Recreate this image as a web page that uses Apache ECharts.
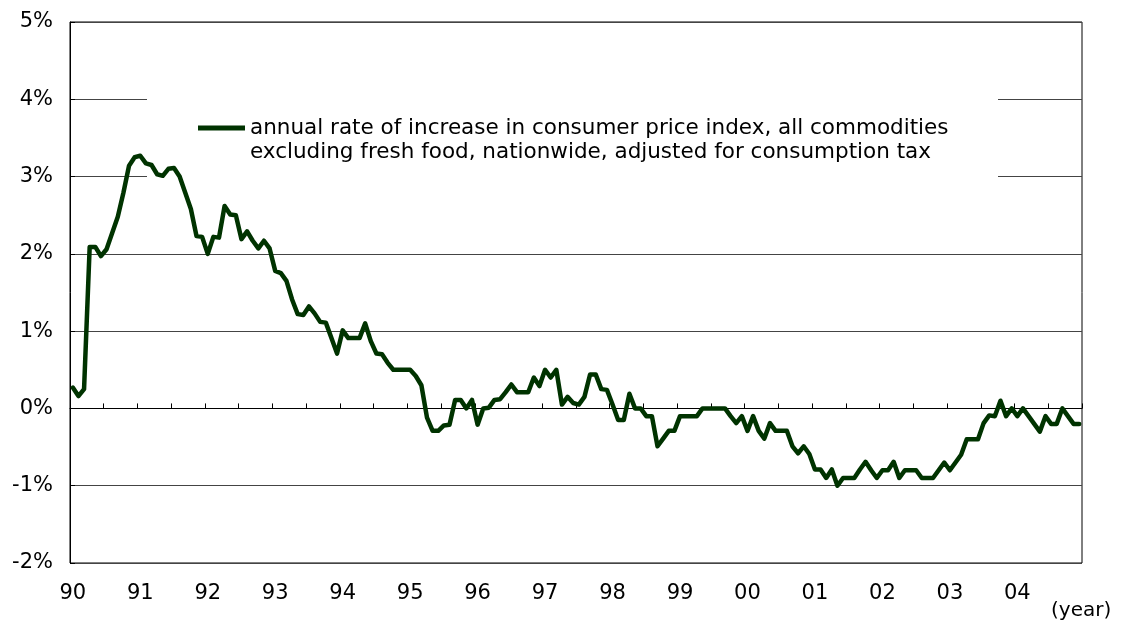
<!DOCTYPE html>
<html>
<head>
<meta charset="utf-8">
<script src="https://cdn.jsdelivr.net/npm/echarts@6/dist/echarts.min.js"></script>
<style>
html,body{margin:0;padding:0;background:#fff;}
#chart{width:1122px;height:632px;}
</style>
</head>
<body>
<div id="chart"></div>
<script>
// Monthly values (%), Jan..Dec of each year
const y1990 = [0.27, 0.16, 0.25, 2.09, 2.09, 1.97, 2.06, 2.27, 2.48, 2.79, 3.14, 3.25];
const y1991 = [3.27, 3.17, 3.15, 3.03, 3.01, 3.10, 3.11, 3.00, 2.79, 2.58, 2.23, 2.22];
const y1992 = [2.00, 2.22, 2.21, 2.62, 2.51, 2.50, 2.19, 2.29, 2.17, 2.07, 2.17, 2.07];
const y1993 = [1.78, 1.75, 1.65, 1.41, 1.22, 1.21, 1.32, 1.23, 1.12, 1.11, 0.91, 0.71];
const y1994 = [1.01, 0.91, 0.91, 0.91, 1.10, 0.87, 0.71, 0.70, 0.59, 0.50, 0.50, 0.50];
const y1995 = [0.50, 0.42, 0.30, -0.12, -0.29, -0.29, -0.22, -0.21, 0.11, 0.11, 0.00, 0.11];
const y1996 = [-0.21, 0.00, 0.01, 0.11, 0.12, 0.21, 0.31, 0.21, 0.21, 0.21, 0.40, 0.29];
const y1997 = [0.50, 0.40, 0.50, 0.05, 0.15, 0.07, 0.05, 0.15, 0.44, 0.44, 0.25, 0.24];
const y1998 = [0.05, -0.15, -0.15, 0.19, 0.00, 0.00, -0.10, -0.10, -0.49, -0.39, -0.29, -0.29];
const y1999 = [-0.10, -0.10, -0.10, -0.10, 0.00, 0.00, 0.00, 0.00, 0.00, -0.10, -0.19, -0.10];
const y2000 = [-0.29, -0.10, -0.29, -0.39, -0.19, -0.29, -0.29, -0.29, -0.49, -0.58, -0.49, -0.59];
const y2001 = [-0.79, -0.79, -0.90, -0.79, -1.00, -0.90, -0.90, -0.90, -0.79, -0.69, -0.80, -0.90];
const y2002 = [-0.80, -0.80, -0.69, -0.90, -0.80, -0.80, -0.80, -0.90, -0.90, -0.90, -0.80, -0.70];
const y2003 = [-0.80, -0.70, -0.60, -0.40, -0.40, -0.40, -0.19, -0.09, -0.10, 0.10, -0.10, 0.00];
const y2004 = [-0.10, 0.00, -0.10, -0.20, -0.30, -0.10, -0.20, -0.20, 0.00, -0.10, -0.20, -0.20];

const years = [1990,1991,1992,1993,1994,1995,1996,1997,1998,1999,2000,2001,2002,2003,2004];
const yearValues = [y1990,y1991,y1992,y1993,y1994,y1995,y1996,y1997,y1998,y1999,y2000,y2001,y2002,y2003,y2004];
const yTicks = [-2, -1, 0, 1, 2, 3, 4, 5];
const seriesName = 'annual rate of increase in consumer price index, all commodities\nexcluding fresh food, nationwide, adjusted for consumption tax';
const xUnit = '(year)';

const categories = [];
const values = [];
years.forEach(function (yr, k) {
  for (let m = 1; m <= 12; m++) {
    categories.push(yr + '-' + (m < 10 ? '0' + m : m));
  }
  yearValues[k].forEach(function (v) { values.push(v); });
});

const chart = echarts.init(document.getElementById('chart'), null, {renderer: 'canvas'});
const FONT = '"DejaVu Sans", sans-serif';

chart.setOption({
  animation: false,
  backgroundColor: '#fff',
  textStyle: {fontFamily: FONT},
  grid: {
    left: 70, right: 40, top: 22, bottom: 69,
    show: true, borderColor: '#000', borderWidth: 1,
    backgroundColor: 'transparent'
  },
  legend: {
    left: 198, top: 92,
    padding: 0,
    selectedMode: false,
    icon: 'rect',
    itemWidth: 47, itemHeight: 5,
    formatter: function (name) { return '\u00a0\n' + name; },
    textStyle: {
      fontFamily: FONT, fontSize: 21.5, color: '#000',
      lineHeight: 24
    },
    data: [seriesName]
  },
  graphic: [
    {
      type: 'rect', z: 1, silent: true,
      shape: {x: 147, y: 85, width: 851, height: 105},
      style: {fill: '#fff'}
    },
    {
      type: 'text', left: 1051, top: 601, silent: true,
      style: {text: xUnit, font: '20px ' + FONT, fill: '#000'}
    }
  ],
  xAxis: {
    type: 'category',
    data: categories,
    boundaryGap: true,
    axisLine: {show: true, lineStyle: {color: '#000', width: 1}},
    axisTick: {show: true, inside: true, length: 5, interval: 5, lineStyle: {color: '#000'}},
    axisLabel: {
      interval: 11, margin: 20,
      fontFamily: FONT, fontSize: 21, color: '#000',
      formatter: function (v) { return v.slice(2, 4); }
    },
    splitLine: {show: false}
  },
  yAxis: {
    type: 'value',
    min: yTicks[0], max: yTicks[yTicks.length - 1], interval: 1,
    axisLine: {show: true, lineStyle: {color: '#000', width: 1}},
    axisTick: {show: true, inside: true, length: 5, lineStyle: {color: '#000'}},
    axisLabel: {
      margin: 17, fontFamily: FONT, fontSize: 21, color: '#000',
      formatter: '{value}%'
    },
    splitLine: {show: true, lineStyle: {color: '#444', width: 1}}
  },
  series: [{
    name: seriesName,
    type: 'line',
    z: 3,
    data: values,
    symbol: 'none',
    showSymbol: false,
    smooth: false,
    lineStyle: {color: '#003300', width: 4.5, join: 'round', cap: 'round'},
    itemStyle: {color: '#003300'}
  }]
});
</script>
</body>
</html>
